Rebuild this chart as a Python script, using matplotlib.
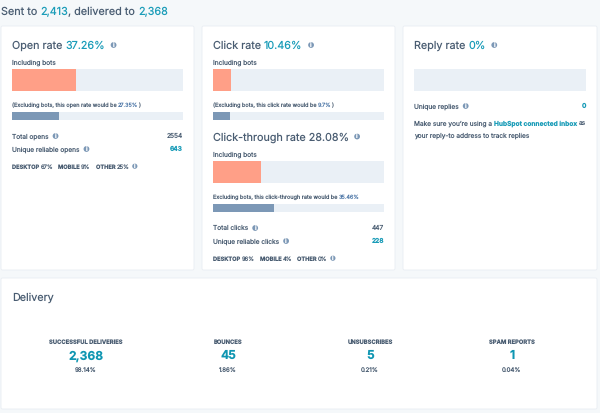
import matplotlib
matplotlib.use('Agg')
import matplotlib.pyplot as plt
from matplotlib.patches import FancyBboxPatch, Circle

plt.rcParams['font.family'] = ['Inter', 'DejaVu Sans']
plt.rcParams['text.hinting'] = 'no_hinting'

W, H = 600, 413
BG = '#f5f8fa'
TRACK = '#eaf0f6'
SALMON = '#ff9f87'
SLATE = '#7c98b6'
DARK = '#4a5d72'
TEAL = '#1a9cb8'
NOTE = '#4f78a8'

TITLE = 7.75
BODY = 4.72
NOTE_SIZE = 3.97

# rates in percent
open_rate = [37.26, 27.35]
click_rate = [10.46, 9.7]
ctr_rate = [28.08, 35.46]
reply_rate = [0]

delivery_labels = ['SUCCESSFUL DELIVERIES', 'BOUNCES', 'UNSUBSCRIBES', 'SPAM REPORTS']
delivery_counts = ['2,368', '45', '5', '1']
delivery_pcts = ['98.14%', '1.86%', '0.21%', '0.04%']

fig = plt.figure(figsize=(6, 4.13), dpi=100, facecolor=BG)
ax = fig.add_axes([0, 0, 1, 1])
ax.set_xlim(0, W)
ax.set_ylim(H, 0)
ax.axis('off')


def card(x0, y0, x1, y1):
    ax.add_patch(FancyBboxPatch((x0, y0), x1 - x0, y1 - y0, boxstyle='round,pad=0,rounding_size=1.5',
                                fc='white', ec='#e9eef3', lw=0.6))


def run(x, y, parts, size, weight='normal'):
    # draw (text, color) pieces on one baseline, returns end x
    r = fig.canvas.get_renderer()
    for s, c in parts:
        ax.text(x, y + size * 0.5, s, fontsize=size, color=c, va='baseline', ha='left', fontweight=weight)
        # a dot keeps the trailing space in the measurement
        probe = ax.text(0, 0, s + '.', fontsize=size, fontweight=weight)
        dot = ax.text(0, 0, '.', fontsize=size, fontweight=weight)
        x += probe.get_window_extent(r).width - dot.get_window_extent(r).width
        probe.remove()
        dot.remove()
    return x


def right(x, y, s, color, weight='normal'):
    ax.text(x, y + BODY * 0.5, s, fontsize=BODY, color=color, ha='right', va='baseline', fontweight=weight)


def info(x, y, r=2.9):
    ax.add_patch(Circle((x, y), r, fc=SLATE, ec='none'))
    ax.text(x, y + 0.2, 'i', fontsize=r * 1.5, color='white', ha='center', va='center', fontweight='bold')


def bar(x0, y0, x1, y1, value, color):
    b = fig.add_axes([x0 / W, 1 - y1 / H, (x1 - x0) / W, (y1 - y0) / H])
    b.set_facecolor(TRACK)
    b.barh([0], [value], height=1, color=color)
    b.set_xlim(0, 100)
    b.set_ylim(-0.5, 0.5)
    b.set_xticks([])
    b.set_yticks([])
    for s in b.spines.values():
        s.set_visible(False)


def device_row(x, y, parts):
    for name, pct in parts:
        x = run(x, y, [(name + ' ', DARK)], 4.1, 'bold')
        x = run(x, y, [(pct, DARK)], 4.2) + 5
    info(x + 0.5, y - 0.8, 2.6)


# header
run(1, 11, [('Sent to ', DARK), ('2,413', TEAL), (', delivered to ', DARK), ('2,368', TEAL)], 7.8)

card(1, 26, 194, 270)
card(202, 26, 395, 270)
card(403, 26, 597, 270)
card(1, 278, 597, 409)

# open rate
end = run(12, 45, [('Open rate ', DARK), ('37.26%', TEAL)], TITLE)
info(end + 8.5, 45)
run(12, 62, [('Including bots', DARK)], BODY)
bar(12, 69, 183, 91, open_rate[0], SALMON)
run(12, 105, [('(Excluding bots, this open rate would be ', DARK), ('27.35%', NOTE), (')', DARK)], NOTE_SIZE)
bar(12, 112, 183, 120, open_rate[1], SLATE)
end = run(12, 136, [('Total opens', DARK)], BODY)
info(end + 7, 136)
right(183, 136, '2554', DARK)
end = run(12, 149, [('Unique reliable opens', DARK)], BODY)
info(end + 7, 149)
right(183, 149, '643', TEAL, 'bold')
device_row(12, 167, [('DESKTOP', '67%'), ('MOBILE', '9%'), ('OTHER', '25%')])

# click rate
end = run(213, 45, [('Click rate ', DARK), ('10.46%', TEAL)], TITLE)
info(end + 8.5, 45)
run(213, 62, [('Including bots', DARK)], BODY)
bar(213, 69, 384, 91, click_rate[0], SALMON)
run(213, 105, [('(Excluding bots, this click rate would be ', DARK), ('9.7%', NOTE), (')', DARK)], NOTE_SIZE)
bar(213, 112, 384, 120, click_rate[1], SLATE)

# click-through rate
end = run(213, 136.5, [('Click-through rate 28.08%', DARK)], TITLE)
info(end + 8, 136.5)
run(213, 154, [('Including bots', DARK)], BODY)
bar(213, 161, 384, 183, ctr_rate[0], SALMON)
run(213, 197, [('Excluding bots, this click-through rate would be ', DARK), ('35.46%', NOTE)], NOTE_SIZE)
bar(213, 204, 384, 212, ctr_rate[1], SLATE)
end = run(213, 228, [('Total clicks', DARK)], BODY)
info(end + 7, 228)
right(384, 228, '447', DARK)
end = run(213, 241, [('Unique reliable clicks', DARK)], BODY)
info(end + 7, 241)
right(384, 241, '228', TEAL, 'bold')
device_row(213, 259, [('DESKTOP', '96%'), ('MOBILE', '4%'), ('OTHER', '0%')])

# reply rate
end = run(414, 45, [('Reply rate ', DARK), ('0%', TEAL)], TITLE)
info(end + 8.5, 45)
bar(414, 69, 586, 91, reply_rate[0], SALMON)
end = run(414, 106, [('Unique replies', DARK)], BODY)
info(end + 7, 106)
right(586, 106, '0', TEAL, 'bold')
end = run(414, 123.5, [('Make sure you\u2019re using a ', DARK)], BODY)
end = run(end, 123.5, [('HubSpot connected inbox ', TEAL)], BODY, 'bold')
run(end, 123.5, [('as', DARK)], BODY)
run(414, 135, [('your reply-to address to track replies', DARK)], BODY)

# delivery
run(12, 297, [('Delivery', DARK)], TITLE)
centers = [86, 228, 370, 512]
for cx, lab, cnt, pct in zip(centers, delivery_labels, delivery_counts, delivery_pcts):
    ax.text(cx, 342, lab, fontsize=4.2, color=DARK, ha='center', va='center', fontweight='bold')
    ax.text(cx, 356, cnt, fontsize=8.7, color='#0f96b2', ha='center', va='center', fontweight='bold')
    ax.text(cx, 370.5, pct, fontsize=4.4, color=DARK, ha='center', va='center')

fig.savefig('out.png', dpi=100, facecolor=BG)
